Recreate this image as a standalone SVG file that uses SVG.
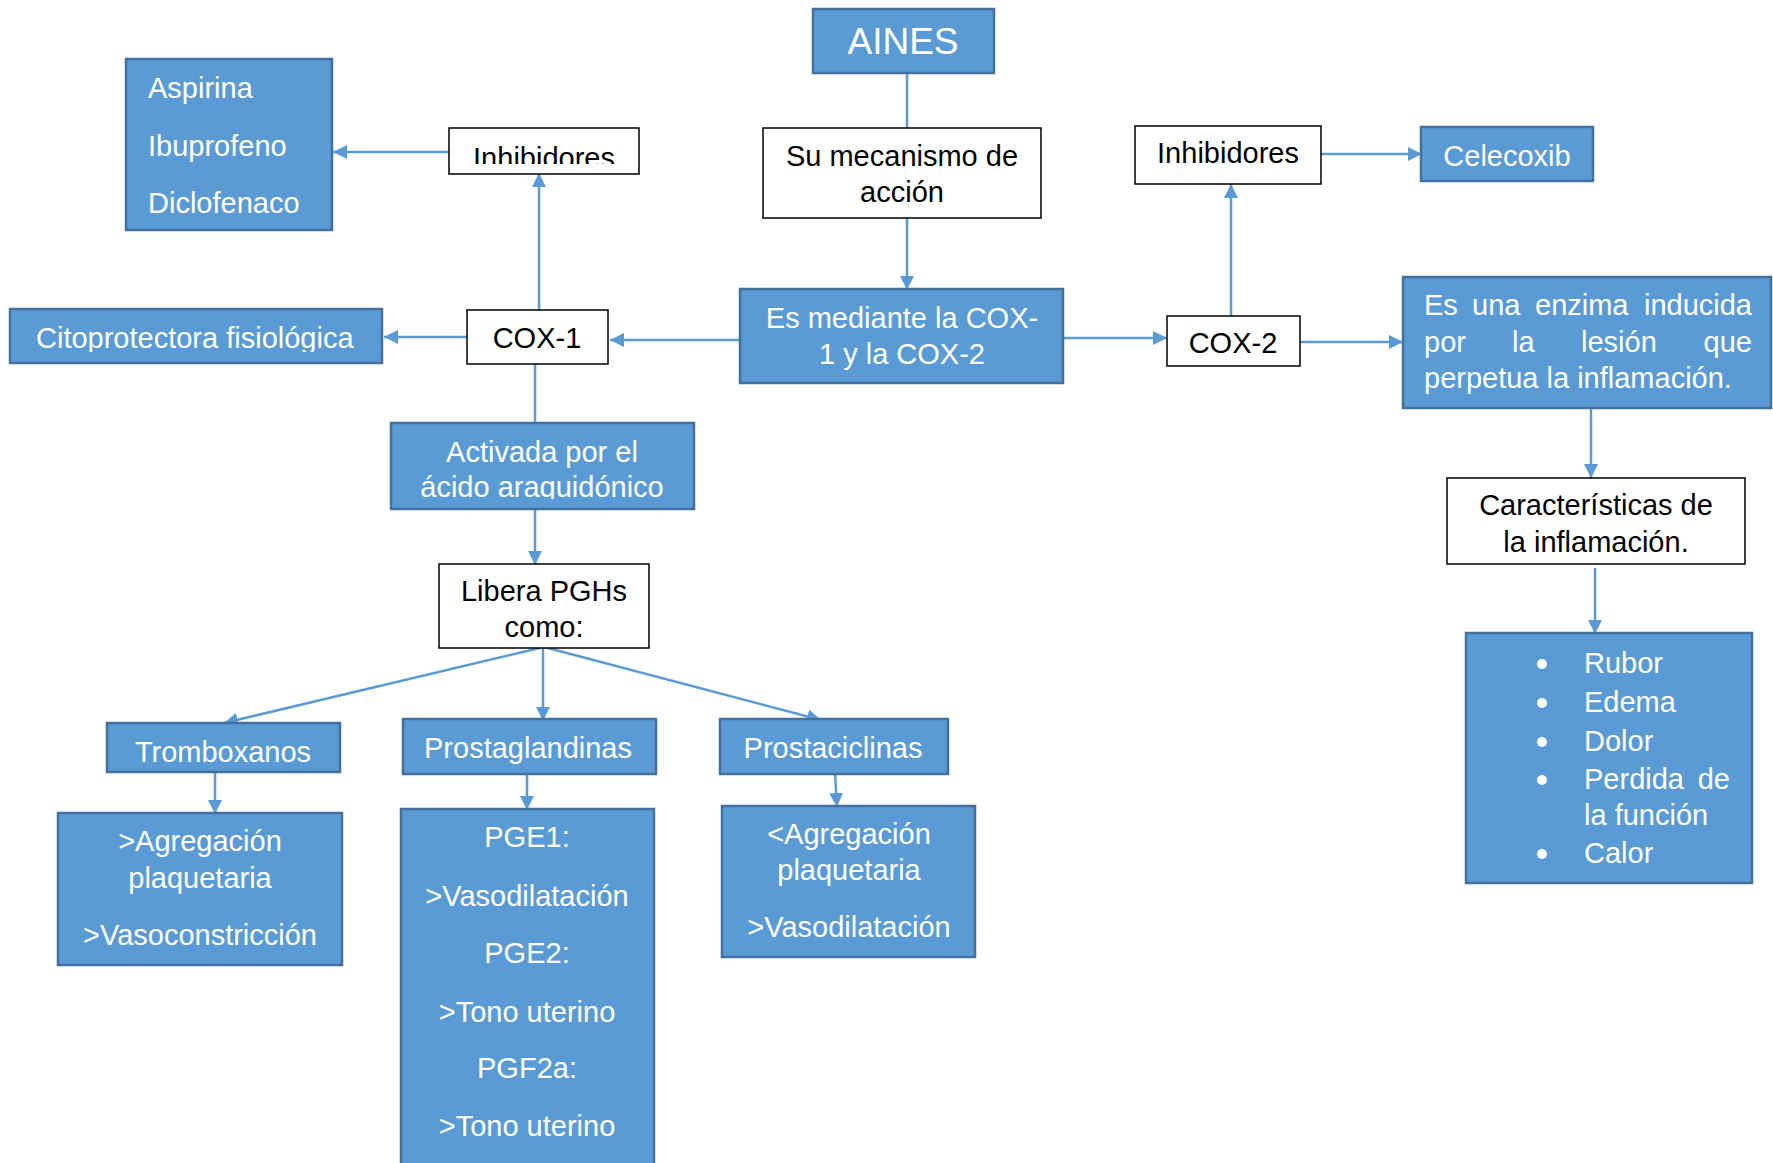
<svg xmlns="http://www.w3.org/2000/svg" width="1773" height="1163" viewBox="0 0 1773 1163">
<defs>
<marker id="ah" markerUnits="userSpaceOnUse" markerWidth="14" markerHeight="14" refX="14" refY="7" orient="auto">
<path d="M0,0 L14,7 L0,14 z" fill="#5B9BD5"/>
</marker>
<clipPath id="clipInhL"><rect x="449" y="128" width="190" height="36"/></clipPath>
<clipPath id="clipCito"><rect x="10" y="309" width="372" height="43"/></clipPath>
<clipPath id="clipAct"><rect x="391" y="423" width="303" height="76"/></clipPath>
<style>
.blue{fill:#5B9BD5;stroke:#41719C;stroke-width:2.5}
.white{fill:#FFFFFF;stroke:#000000;stroke-width:1.5}
.wt{font-family:"Liberation Sans",Arial,sans-serif;font-size:29px;fill:#FFFFFF}
.bt{font-family:"Liberation Sans",Arial,sans-serif;font-size:29px;fill:#000000}
.c{text-anchor:middle}
.e{text-anchor:end}
.conn line{stroke:#5B9BD5;stroke-width:2.5;fill:none}
.arr{marker-end:url(#ah)}
</style>
</defs>
<rect width="1773" height="1163" fill="#FFFFFF"/>

<g id="connectors" class="conn">
<line x1="907" y1="73" x2="907" y2="128"/>
<line class="arr" x1="907" y1="218" x2="907" y2="290"/>
<line class="arr" x1="740" y1="340" x2="610" y2="340"/>
<line class="arr" x1="467" y1="337" x2="384" y2="337"/>
<line class="arr" x1="539" y1="310" x2="539" y2="173"/>
<line class="arr" x1="449" y1="152" x2="333" y2="152"/>
<line x1="535" y1="364" x2="535" y2="423"/>
<line class="arr" x1="535" y1="509" x2="535" y2="565"/>
<line class="arr" x1="544" y1="647" x2="224" y2="723"/>
<line class="arr" x1="543" y1="647" x2="543" y2="721"/>
<line class="arr" x1="544" y1="647" x2="821" y2="720"/>
<line class="arr" x1="215" y1="772" x2="215" y2="814"/>
<line class="arr" x1="527" y1="774" x2="527" y2="810"/>
<line class="arr" x1="835" y1="774" x2="837" y2="807"/>
<line class="arr" x1="1063" y1="338" x2="1167" y2="338"/>
<line class="arr" x1="1231" y1="316" x2="1231" y2="184"/>
<line class="arr" x1="1321" y1="154" x2="1422" y2="154"/>
<line class="arr" x1="1300" y1="342" x2="1403" y2="342"/>
<line class="arr" x1="1591" y1="409" x2="1591" y2="478"/>
<line class="arr" x1="1595" y1="568" x2="1595" y2="634"/>
</g>

<g id="aines">
<rect class="blue" x="813" y="9" width="181" height="64"/>
<text class="wt c" x="903" y="54" style="font-size:37px">AINES</text>
</g>

<g id="mecanismo">
<rect class="white" x="763" y="128" width="278" height="90"/>
<text class="bt c" x="902" y="166">Su mecanismo de</text>
<text class="bt c" x="902" y="202">acción</text>
</g>

<g id="mediante">
<rect class="blue" x="740" y="289" width="323" height="94"/>
<text class="wt c" x="902" y="328">Es mediante la COX-</text>
<text class="wt c" x="902" y="364">1 y la COX-2</text>
</g>

<g id="cox1">
<rect class="white" x="467" y="310" width="141" height="54"/>
<text class="bt c" x="537" y="348">COX-1</text>
</g>

<g id="citoprotectora">
<rect class="blue" x="10" y="309" width="372" height="54"/>
<text class="wt" x="36" y="348" clip-path="url(#clipCito)">Citoprotectora fisiológica</text>
</g>

<g id="inhibidores1">
<rect class="white" x="449" y="128" width="190" height="46"/>
<text class="bt c" x="544" y="168" clip-path="url(#clipInhL)">Inhibidores</text>
</g>

<g id="farmacos1">
<rect class="blue" x="126" y="59" width="206" height="171"/>
<text class="wt" x="148" y="98">Aspirina</text>
<text class="wt" x="148" y="156">Ibuprofeno</text>
<text class="wt" x="148" y="213">Diclofenaco</text>
</g>

<g id="activada">
<rect class="blue" x="391" y="423" width="303" height="86"/>
<text class="wt c" x="542" y="462">Activada por el</text>
<text class="wt c" x="542" y="497" clip-path="url(#clipAct)">ácido araquidónico</text>
</g>

<g id="libera">
<rect class="white" x="439" y="564" width="210" height="84"/>
<text class="bt c" x="544" y="601">Libera PGHs</text>
<text class="bt c" x="544" y="637">como:</text>
</g>

<g id="tromboxanos">
<rect class="blue" x="107" y="723" width="233" height="49"/>
<text class="wt c" x="223" y="762">Tromboxanos</text>
</g>

<g id="tromboxanos-efectos">
<rect class="blue" x="58" y="813" width="284" height="152"/>
<text class="wt c" x="200" y="851">&gt;Agregación</text>
<text class="wt c" x="200" y="888">plaquetaria</text>
<text class="wt c" x="200" y="945">&gt;Vasoconstricción</text>
</g>

<g id="prostaglandinas">
<rect class="blue" x="403" y="719" width="253" height="55"/>
<text class="wt c" x="528" y="758">Prostaglandinas</text>
</g>

<g id="prostaglandinas-efectos">
<rect class="blue" x="401" y="809" width="253" height="362"/>
<text class="wt c" x="527" y="847">PGE1:</text>
<text class="wt c" x="527" y="906">&gt;Vasodilatación</text>
<text class="wt c" x="527" y="963">PGE2:</text>
<text class="wt c" x="527" y="1022">&gt;Tono uterino</text>
<text class="wt c" x="527" y="1078">PGF2a:</text>
<text class="wt c" x="527" y="1136">&gt;Tono uterino</text>
</g>

<g id="prostaciclinas">
<rect class="blue" x="720" y="719" width="228" height="55"/>
<text class="wt c" x="833" y="758">Prostaciclinas</text>
</g>

<g id="prostaciclinas-efectos">
<rect class="blue" x="722" y="806" width="253" height="151"/>
<text class="wt c" x="849" y="844">&lt;Agregación</text>
<text class="wt c" x="849" y="880">plaquetaria</text>
<text class="wt c" x="849" y="937">&gt;Vasodilatación</text>
</g>

<g id="cox2">
<rect class="white" x="1167" y="316" width="133" height="50"/>
<text class="bt c" x="1233" y="353">COX-2</text>
</g>

<g id="inhibidores2">
<rect class="white" x="1135" y="126" width="186" height="58"/>
<text class="bt c" x="1228" y="163">Inhibidores</text>
</g>

<g id="celecoxib">
<rect class="blue" x="1421" y="127" width="172" height="54"/>
<text class="wt c" x="1507" y="166">Celecoxib</text>
</g>

<g id="enzima">
<rect class="blue" x="1403" y="277" width="368" height="131"/>
<text class="wt" x="1424" y="315">Es</text>
<text class="wt" x="1472" y="315">una</text>
<text class="wt" x="1535" y="315">enzima</text>
<text class="wt e" x="1752" y="315">inducida</text>
<text class="wt" x="1424" y="352">por</text>
<text class="wt" x="1512" y="352">la</text>
<text class="wt" x="1581" y="352">lesión</text>
<text class="wt e" x="1752" y="352">que</text>
<text class="wt" x="1424" y="388">perpetua la inflamación.</text>
</g>

<g id="caracteristicas">
<rect class="white" x="1447" y="478" width="298" height="86"/>
<text class="bt c" x="1596" y="515">Características de</text>
<text class="bt c" x="1596" y="552">la inflamación.</text>
</g>

<g id="signos">
<rect class="blue" x="1466" y="633" width="286" height="250"/>
<g fill="#FFFFFF">
<circle cx="1542" cy="664" r="5"/>
<circle cx="1542" cy="703" r="5"/>
<circle cx="1542" cy="742" r="5"/>
<circle cx="1542" cy="780" r="5"/>
<circle cx="1542" cy="854" r="5"/>
</g>
<text class="wt" x="1584" y="673">Rubor</text>
<text class="wt" x="1584" y="712">Edema</text>
<text class="wt" x="1584" y="751">Dolor</text>
<text class="wt" x="1584" y="789">Perdida</text>
<text class="wt e" x="1730" y="789">de</text>
<text class="wt" x="1584" y="825">la función</text>
<text class="wt" x="1584" y="863">Calor</text>
</g>
</svg>
